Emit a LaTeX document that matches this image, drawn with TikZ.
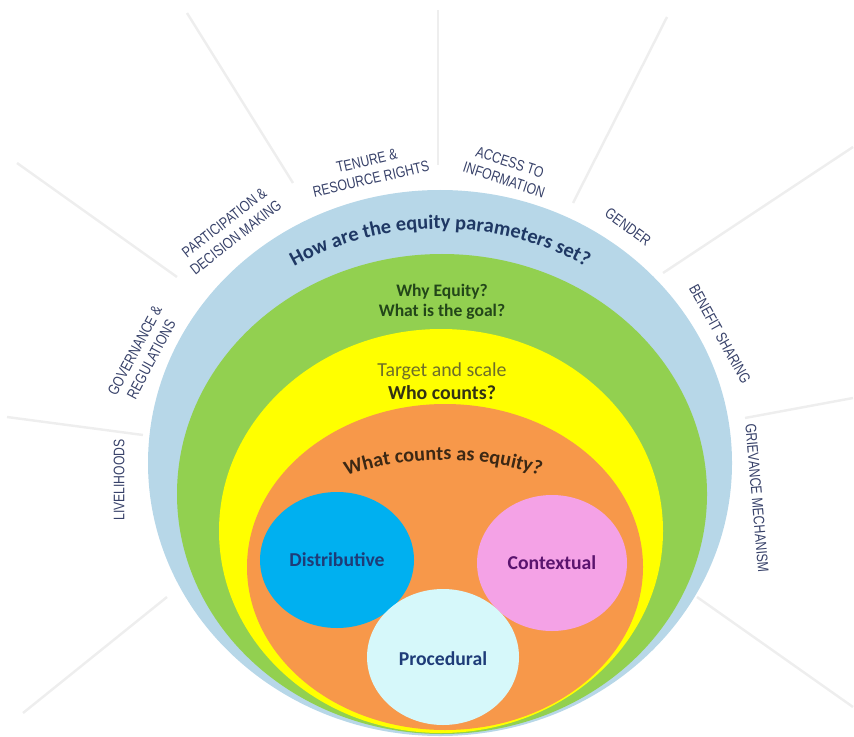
\documentclass[tikz,border=0pt]{standalone}
\usepackage{fontspec}
\setmainfont{Carlito}
\newfontfamily\capsfont[FakeStretch=0.8]{Liberation Sans}
\usetikzlibrary{decorations.text}
\definecolor{ringblue}{RGB}{183,215,232}
\definecolor{ringgreen}{RGB}{146,208,80}
\definecolor{ringyellow}{RGB}{255,255,0}
\definecolor{ringorange}{RGB}{247,152,74}
\definecolor{distblue}{RGB}{0,176,240}
\definecolor{contpink}{RGB}{244,162,230}
\definecolor{proccyan}{RGB}{214,248,250}
\definecolor{labelnavy}{RGB}{55,65,105}
\definecolor{hownavy}{RGB}{31,56,100}
\definecolor{whygreen}{RGB}{35,70,25}
\definecolor{targetolive}{RGB}{110,110,40}
\definecolor{whodark}{RGB}{50,50,20}
\definecolor{whatbrown}{RGB}{60,40,20}
\definecolor{distnavy}{RGB}{30,60,120}
\definecolor{contpurple}{RGB}{90,20,110}
\definecolor{spokegray}{RGB}{238,238,238}
\tikzstyle{spoke}=[spokegray,line width=1.4pt]
\tikzstyle{issue}=[text=labelnavy,font=\capsfont\fontsize{8.7}{10.6}\selectfont,align=center,inner sep=0pt]
\tikzstyle{question}=[font=\bfseries\fontsize{11.3}{12.8}\selectfont,align=center,inner sep=0pt]
\tikzstyle{kind}=[font=\bfseries\fontsize{11.2}{13}\selectfont]

\begin{document}
\begin{tikzpicture}[x=0.02cm,y=0.02cm]
  \useasboundingbox (0,0) rectangle (854,-736);

  % Spokes between the issues.
  \draw[spoke] (167,-597) -- (23,-713);
  \draw[spoke] (143,-435) -- (7,-417);
  \draw[spoke] (177,-277) -- (17,-163);
  \draw[spoke] (293,-183) -- (187,-13);
  \draw[spoke] (438,-165) -- (438,-10);
  \draw[spoke] (573,-203) -- (667,-17);
  \draw[spoke] (663,-273) -- (853,-147);
  \draw[spoke] (745,-418) -- (853,-398);
  \draw[spoke] (697,-597) -- (853,-707);

  % Rings, outer to inner.
  \fill[ringblue] (440,-463) ellipse [x radius=292,y radius=273];
  \fill[ringgreen] (442,-494) ellipse [x radius=265,y radius=240];
  \fill[ringyellow] (441,-531) ellipse [x radius=222,y radius=202];
  \fill[ringorange] (445,-567) ellipse [x radius=198,y radius=163];

  % Curved ring questions.
  \path[decorate,decoration={text along path,text align=center,text color=hownavy,
      text={|\bfseries\fontsize{11.6}{11.6}\selectfont|How are the equity parameters set?}}]
    (440,-463) ++(160:268 and 234) arc [start angle=160,end angle=20,x radius=268,y radius=234];
  \path[decorate,decoration={text along path,text align=center,text color=whatbrown,
      text={|\bfseries\fontsize{11.5}{11.5}\selectfont|What counts as equity?}}]
    (443,-567) ++(150:186 and 107) arc [start angle=150,end angle=30,x radius=186,y radius=107];

  % Ring questions.
  \node[question,text=whygreen,font=\bfseries\fontsize{10}{11.5}\selectfont] (whyequity) at (442,-302)
    {Why Equity?\\What is the goal?};
  \node[question,text=whodark] (whocounts) at (442,-381)
    {\textcolor{targetolive}{\mdseries Target and scale}\\Who counts?};

  % Kinds of equity.
  \fill[distblue] (337,-560) ellipse [x radius=77,y radius=68];
  \fill[contpink] (552,-563) ellipse [x radius=75,y radius=68];
  \fill[proccyan] (443,-657) ellipse [x radius=76,y radius=68];
  \node[kind,text=distnavy] (distributive) at (337,-560) {Distributive};
  \node[kind,text=contpurple] (contextual) at (552,-563) {Contextual};
  \node[kind,text=distnavy] (procedural) at (443,-659) {Procedural};

  % Issues round the outside.
  \node[issue,rotate=90] (livelihoods) at (119,-480) {LIVELIHOODS};
  \node[issue,rotate=62] (governance) at (143,-355) {GOVERNANCE \&\\REGULATIONS};
  \node[issue,rotate=38] (participation) at (230,-230) {PARTICIPATION \&\\DECISION MAKING};
  \node[issue,rotate=13] (tenure) at (369,-170) {TENURE \&\\RESOURCE RIGHTS};
  \node[issue,rotate=-18] (access) at (507,-171) {ACCESS TO\\INFORMATION};
  \node[issue,rotate=-36] (gender) at (628,-227) {GENDER};
  \node[issue,rotate=-61] (benefit) at (720,-334) {BENEFIT SHARING};
  \node[issue,rotate=-85] (grievance) at (757,-498) {GRIEVANCE MECHANISM};
\end{tikzpicture}
\end{document}
